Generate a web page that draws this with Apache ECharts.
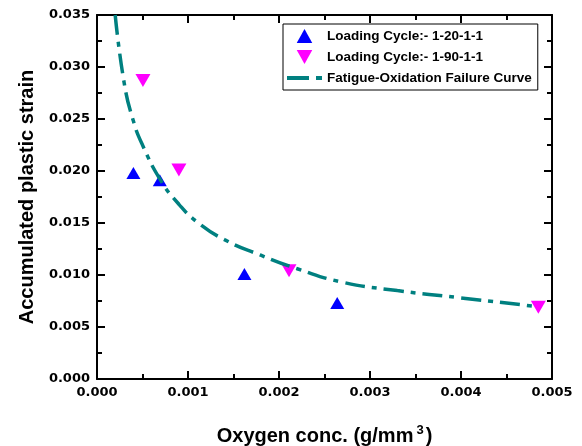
<!DOCTYPE html>
<html>
<head>
<meta charset="utf-8">
<script src="https://cdn.jsdelivr.net/npm/echarts@6/dist/echarts.min.js"></script>
<style>
  html, body { margin: 0; padding: 0; background: #fff; }
  #main { width: 582px; height: 446px; }
</style>
</head>
<body>
<div id="main"></div>
<script>
// 数据
var cycle20X = [0.0004, 0.00069, 0.00162, 0.00264];
var cycle20Y = [0.0198, 0.0191, 0.0101, 0.0073];
var cycle90X = [0.000505, 0.0009, 0.00211, 0.00485];
var cycle90Y = [0.0287, 0.0201, 0.0104, 0.0069];
// failure curve, points
var curveX = [0.0002, 0.0003, 0.0004, 0.0005, 0.0007, 0.0009, 0.0011, 0.0014, 0.0018, 0.0022, 0.0027, 0.0033, 0.0040, 0.0048];
var curveY = [0.0350, 0.0284, 0.0248, 0.0225, 0.0191, 0.0168, 0.0151, 0.0134, 0.0119, 0.0106, 0.0093, 0.0085, 0.0078, 0.0070];
var seriesNames = ['Loading Cycle:- 1-20-1-1', 'Loading Cycle:- 1-90-1-1', 'Fatigue-Oxidation Failure Curve'];

var upTri = 'path://M5,0 L10,9 L0,9 Z';
var downTri = 'path://M0,0 L10,0 L5,9 Z';
var dashDotIcon = 'path://M0,0 L22,0 L22,4 L0,4 Z M29,0 L35,0 L35,4 L29,4 Z';

function pairs(xs, ys) {
    var out = [];
    for (var i = 0; i < xs.length; i++) {
        out.push([xs[i], ys[i]]);
    }
    return out;
}

var tickFont = { fontFamily: 'DejaVu Sans', fontWeight: 'bold', fontSize: 13, color: '#000' };
var titleFont = 'Liberation Sans';

// 坐标轴 - bottom/left carry labels, top/right only ticks
function makeAxis(pos, max, step, labelled) {
    var ax = {
        type: 'value',
        position: pos,
        min: 0,
        max: max,
        interval: step,
        splitLine: { show: false },
        axisLine: { show: true, onZero: false, lineStyle: { color: '#000', width: 2 } },
        axisTick: { show: true, inside: true, length: 8, lineStyle: { color: '#000', width: 2 } },
        minorTick: { show: true, splitNumber: 2, length: 5, lineStyle: { color: '#000', width: 2 } },
        axisLabel: { show: labelled, margin: 7, formatter: function (v) { return v.toFixed(3); } }
    };
    for (var k in tickFont) { ax.axisLabel[k] = tickFont[k]; }
    return ax;
}

var xBottom = makeAxis('bottom', 0.005, 0.001, true);
xBottom.name = 'Oxygen conc. (g/mm{sup|3})';
xBottom.nameLocation = 'middle';
xBottom.nameGap = 45;
xBottom.nameTextStyle = {
    fontFamily: titleFont, fontWeight: 'bold', fontSize: 20, color: '#000', lineHeight: 24,
    rich: { sup: { fontFamily: titleFont, fontWeight: 'bold', fontSize: 13, color: '#000', verticalAlign: 'top', lineHeight: 14, padding: [0, 2, 0, 3] } }
};
var xTop = makeAxis('top', 0.005, 0.001, false);

var yLeft = makeAxis('left', 0.035, 0.005, true);
yLeft.name = 'Accumulated plastic strain';
yLeft.nameLocation = 'middle';
yLeft.nameGap = 60;
yLeft.nameTextStyle = { fontFamily: titleFont, fontWeight: 'bold', fontSize: 20, color: '#000' };
var yRight = makeAxis('right', 0.035, 0.005, false);

var myChart = echarts.init(document.getElementById('main'), null, { renderer: 'canvas' });

var option = {
    backgroundColor: '#fff',
    animation: false,
    grid: { left: 97, right: 30, top: 15, bottom: 67, show: false, containLabel: false, outerBoundsMode: 'none' },
    legend: {
        orient: 'vertical',
        left: 283,
        top: 24,
        itemWidth: 35,
        itemHeight: 14,
        itemGap: 7,
        padding: [5, 6, 5, 4],
        borderColor: '#000',
        borderWidth: 1,
        borderRadius: 0,
        symbolKeepAspect: true,
        textStyle: { fontFamily: titleFont, fontWeight: 'bold', fontSize: 13.5, color: '#000' },
        data: [
            { name: seriesNames[0], icon: upTri },
            { name: seriesNames[1], icon: downTri },
            { name: seriesNames[2], icon: dashDotIcon }
        ]
    },
    xAxis: [xBottom, xTop],
    yAxis: [yLeft, yRight],
    series: [
        {
            name: seriesNames[0],
            type: 'scatter',
            xAxisIndex: 0, yAxisIndex: 0,
            symbol: 'triangle',
            symbolSize: [14, 12],
            itemStyle: { color: '#0000ff', opacity: 1 },
            data: pairs(cycle20X, cycle20Y)
        },
        {
            name: seriesNames[1],
            type: 'scatter',
            xAxisIndex: 0, yAxisIndex: 0,
            symbol: downTri,
            symbolSize: [15, 13],
            itemStyle: { color: '#ff00ff', opacity: 1 },
            data: pairs(cycle90X, cycle90Y)
        },
        {
            name: seriesNames[2],
            type: 'line',
            xAxisIndex: 0, yAxisIndex: 0,
            smooth: true,
            symbol: 'none',
            z: 5,
            lineStyle: { color: '#008080', width: 3.5, type: [20, 7, 5, 7] },
            itemStyle: { color: '#008080' },
            data: pairs(curveX, curveY)
        }
    ]
};

myChart.setOption(option);
</script>
</body>
</html>
